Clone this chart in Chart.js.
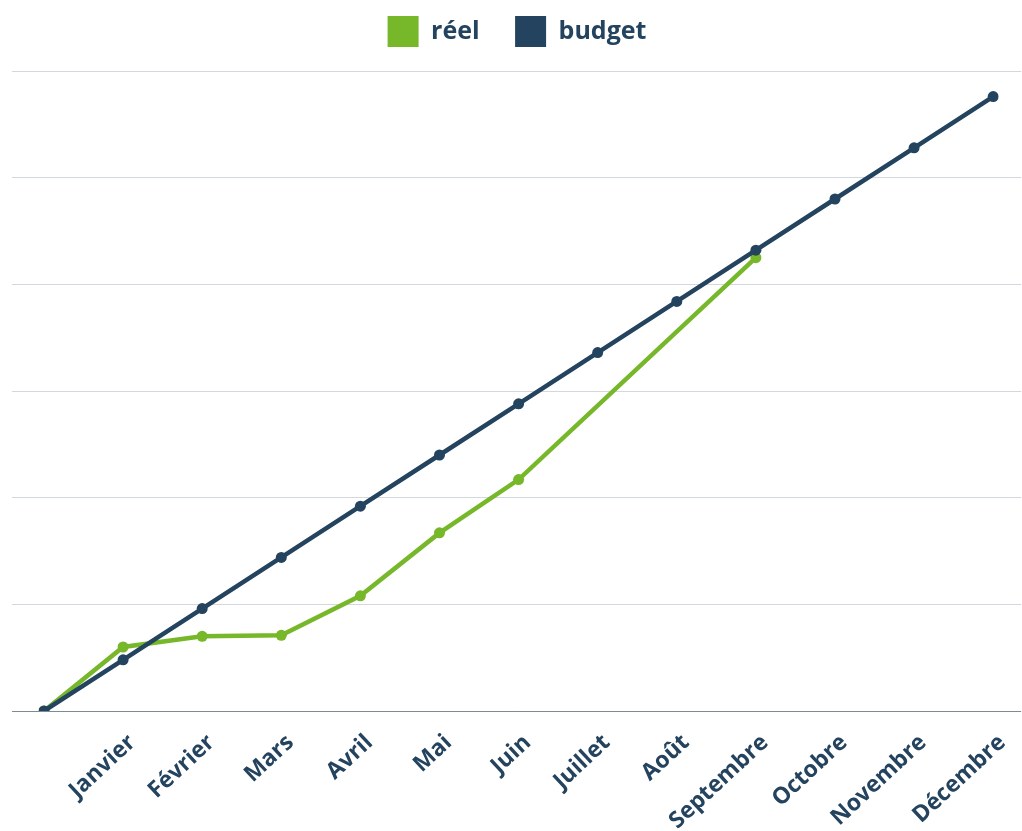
<!DOCTYPE html>
<html>
<head>
<meta charset="utf-8">
<script src="https://cdn.jsdelivr.net/npm/chart.js@4/dist/chart.umd.min.js"></script>
<style>
html,body{margin:0;padding:0;background:#fff;}
#wrap{width:1022px;height:831px;position:relative;}
</style>
</head>
<body>
<div id="wrap"><canvas id="c"></canvas></div>
<script>
const categories = ['', 'Janvier', 'Février', 'Mars', 'Avril', 'Mai', 'Juin', 'Juillet', 'Août', 'Septembre', 'Octobre', 'Novembre', 'Décembre'];
const reel = [0, 60, 70, 71, 108, 167, 217, null, null, 425, null, null, null];
const budget = [0, 48, 96, 144, 192, 240, 288, 336, 384, 432, 480, 528, 576];
const seriesNames = ['réel', 'budget'];
const yMin = 0, yMax = 600, yStep = 100;

const GREEN = '#77b72a';
const NAVY = '#24435e';
const GRID = '#d3d8de';
const ZERO = '#7d8b99';
const FONT = "'Open Sans', sans-serif";

const gridColor = (ctx) => (ctx.tick && ctx.tick.value === 0) ? ZERO : GRID;

const legendSpacer = {
  id: 'legendSpacer',
  beforeLayout(chart) {
    const lg = chart.legend;
    if (lg && !lg._spacerPatched) {
      const orig = lg.fit;
      lg.fit = function () { orig.call(this); this.height += 14; };
      lg._spacerPatched = true;
    }
  }
};

new Chart(document.getElementById('c'), {
  type: 'line',
  data: {
    labels: categories,
    datasets: [
      {
        label: seriesNames[0], data: reel, order: 1,
        borderColor: GREEN, backgroundColor: GREEN,
        borderWidth: 4.5, pointRadius: 5.5, pointBorderWidth: 0,
        pointBackgroundColor: GREEN, spanGaps: true, tension: 0
      },
      {
        label: seriesNames[1], data: budget, order: 0,
        borderColor: NAVY, backgroundColor: NAVY,
        borderWidth: 4.5, pointRadius: 5.5, pointBorderWidth: 0,
        pointBackgroundColor: NAVY, spanGaps: true, tension: 0
      }
    ]
  },
  plugins: [legendSpacer],
  options: {
    responsive: true,
    maintainAspectRatio: false,
    animation: false,
    layout: { autoPadding: false, padding: { left: 12, right: 0, top: 0, bottom: 0 } },
    plugins: {
      tooltip: { enabled: false },
      legend: {
        position: 'top',
        labels: {
          sort: (a, b) => a.datasetIndex - b.datasetIndex,
          boxWidth: 31, boxHeight: 31, padding: 16,
          color: NAVY,
          font: { family: FONT, size: 25, weight: 'bold' },
          generateLabels: (chart) => {
            const items = Chart.defaults.plugins.legend.labels.generateLabels(chart);
            items.forEach(it => { if (it.datasetIndex === 0) it.text = it.text + '\u00a0\u00a0\u00a0'; it.lineWidth = 0; });
            return items;
          }
        }
      }
    },
    scales: {
      x: {
        offset: false,
        grid: { display: false },
        border: { display: false },
        ticks: {
          autoSkip: false, minRotation: 43, maxRotation: 43,
          color: NAVY, padding: 10, labelOffset: 9,
          font: { family: FONT, size: 23, weight: 'bold' }
        },
        afterFit: (s) => { s.height = 120; }
      },
      y: {
        position: 'left',
        min: yMin, max: yMax,
        ticks: { display: false, stepSize: yStep },
        grid: { color: gridColor, tickLength: 32, lineWidth: 1, drawTicks: true },
        border: { display: false }
      },
      y2: {
        position: 'right',
        min: yMin, max: yMax,
        ticks: { display: false, stepSize: yStep },
        grid: { color: gridColor, tickLength: 28, lineWidth: 1, drawTicks: true },
        border: { display: false }
      }
    }
  }
});
</script>
</body>
</html>
